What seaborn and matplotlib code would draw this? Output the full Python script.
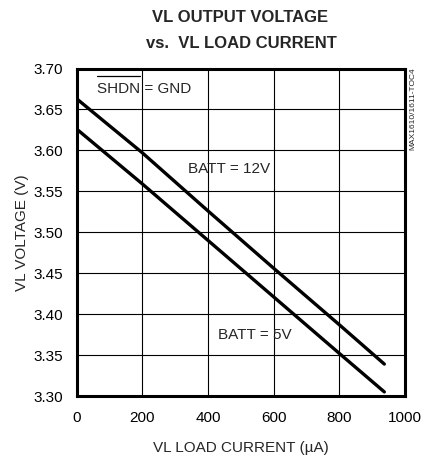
import numpy as np
import pandas as pd
import matplotlib
matplotlib.use("Agg")
import matplotlib.pyplot as plt
import seaborn as sns
from matplotlib.lines import Line2D

# ---- data ----
load_current = [0, 200, 400, 600, 800, 937]          # uA
vl_batt_12v = [3.663, 3.597, 3.526, 3.456, 3.387, 3.339]
vl_batt_5v = [3.626, 3.559, 3.490, 3.421, 3.352, 3.305]
series_names = ["BATT = 12V", "BATT = 5V"]
x_ticks = [0, 200, 400, 600, 800, 1000]
y_ticks = [3.30, 3.35, 3.40, 3.45, 3.50, 3.55, 3.60, 3.65, 3.70]

df = pd.DataFrame({
    "current": load_current + load_current,
    "voltage": vl_batt_12v + vl_batt_5v,
    "series": [series_names[0]] * len(load_current) + [series_names[1]] * len(load_current),
})

sns.set_style("white")
plt.rcParams["font.family"] = ["Liberation Sans", "DejaVu Sans"]

W, H = 425, 457
fig = plt.figure(figsize=(W / 100, H / 100), dpi=100)
ax = fig.add_axes([76.7 / W, 1 - 396 / H, (405 - 76.7) / W, (396 - 68.5) / H])

sns.lineplot(data=df, x="current", y="voltage", hue="series",
             palette=["black", "black"], linewidth=2.4, legend=False, ax=ax)

ax.set_xlim(0, 1000)
ax.set_ylim(3.30, 3.70)
ax.set_xticks(x_ticks)
ax.set_yticks(y_ticks)
ax.set_xticklabels([str(t) for t in x_ticks])
ax.set_yticklabels([f"{t:.2f}" for t in y_ticks])
ax.grid(True, color="black", linewidth=0.8)
ax.set_axisbelow(True)
for s in ax.spines.values():
    s.set_visible(True)
    s.set_color("black")
    s.set_linewidth(2.2)
ax.tick_params(axis="both", length=0, labelsize=11, colors="black")
ax.tick_params(axis="x", pad=11)
ax.tick_params(axis="y", pad=10)

ax.set_xlabel("VL LOAD CURRENT (\u00b5A)", fontsize=11, labelpad=11)
ax.set_ylabel("VL VOLTAGE (V)", fontsize=11, labelpad=3)

fig.text(240 / W, 1 - 18 / H, "VL OUTPUT VOLTAGE", fontsize=12, fontweight="bold",
         ha="center", va="center")
fig.text(241 / W, 1 - 43 / H, "vs.  VL LOAD CURRENT", fontsize=12, fontweight="bold",
         ha="center", va="center")

ax.text(430, 3.374, series_names[1], fontsize=11, ha="left", va="center")
ax.text(590, 3.577, series_names[0], fontsize=11, ha="right", va="center")

t_shdn = ax.text(62, 3.675, "SHDN", fontsize=11, ha="left", va="center")
t_rest = ax.text(62, 3.675, "SHDN = GND", fontsize=11, ha="left", va="center")
t_shdn.set_alpha(0)
fig.canvas.draw()
bb = t_shdn.get_window_extent()
y_line = H - 76
fig.add_artist(Line2D([bb.x0 / W, bb.x1 / W], [y_line / H, y_line / H],
                      color="black", linewidth=0.9, transform=fig.transFigure))

fig.text(413 / W, 1 - 67 / H, "MAX1610/1611-TOC4", fontsize=6, rotation=90,
         ha="center", va="top")

fig.savefig("out.png", dpi=100)
